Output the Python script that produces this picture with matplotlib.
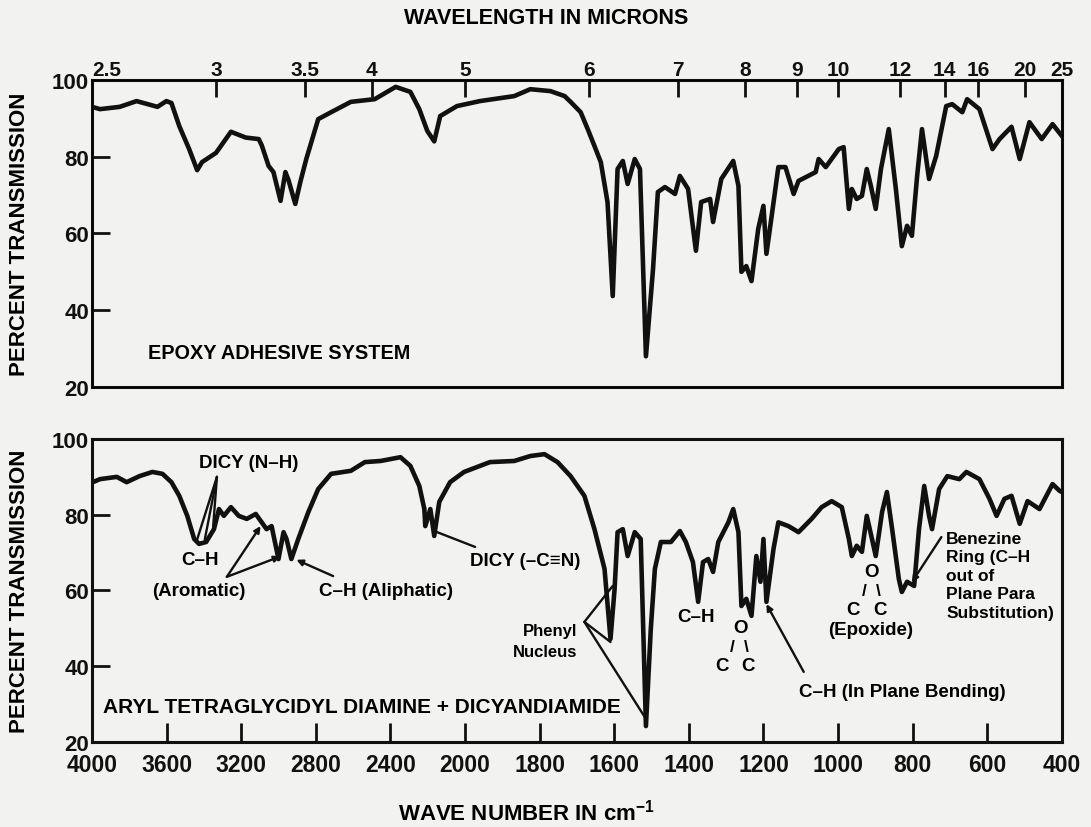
import numpy as np
import matplotlib
matplotlib.use('Agg')
import matplotlib.pyplot as plt

plt.rcParams['font.family'] = ['Liberation Sans', 'DejaVu Sans']
plt.rcParams['font.weight'] = 'bold'
plt.rcParams['mathtext.fontset'] = 'custom'
plt.rcParams['mathtext.rm'] = 'Liberation Sans:bold'
plt.rcParams['mathtext.bf'] = 'Liberation Sans:bold'

# spectrum 1: epoxy adhesive system (wave number, % transmission)
wn_epoxy = [4000, 3957, 3851, 3761, 3649, 3601, 3574, 3532, 3479, 3436, 3410, 3335, 3255,
            3176, 3106, 3090, 3053, 3027, 2989, 2963, 2947, 2910, 2883, 2851, 2787, 2718,
            2612, 2484, 2372, 2293, 2245, 2202, 2165, 2133, 2043, 1960, 1868, 1825, 1771,
            1733, 1717, 1690, 1671, 1653, 1636, 1618, 1604, 1591, 1577, 1564, 1545, 1531,
            1515, 1496, 1483, 1464, 1437, 1424, 1402, 1381, 1367, 1343, 1335, 1313, 1281,
            1267, 1259, 1246, 1232, 1214, 1200, 1192, 1179, 1160, 1141, 1119, 1106, 1060,
            1052, 1033, 998, 985, 971, 963, 950, 936, 923, 912, 899, 885, 864, 845, 829,
            815, 802, 788, 775, 756, 737, 710, 694, 667, 654, 621, 586, 567, 535, 513, 487,
            454, 425, 400]
t_epoxy = [93, 92.4, 93, 94.5, 93, 94.5, 94, 88, 82, 76.5, 78.6, 81, 86.5,
           85, 84.6, 83, 77.6, 76, 68.5, 76, 74, 67.7, 73.4, 79.4, 89.8, 91.6,
           94.3, 95, 98.2, 96.9, 92.4, 86.7, 84, 90.6, 93.2, 94.5, 95.8, 97.6, 97.1,
           95.8, 94.3, 91.6, 87.2, 82.8, 78.6, 68.2, 43.7, 76.8, 78.9, 72.9, 79.4, 76.8,
           28, 50.7, 70.8, 72.1, 70.3, 75, 71.6, 55.5, 68.2, 69, 63, 74.2, 78.9,
           72.4, 50, 51.5, 47.6, 61.2, 67.2, 54.7, 63.8, 77.3, 77.3, 70.3, 73.7, 76,
           79.4, 77.3, 82, 82.5, 66.4, 71.6, 69, 69.8, 76.8, 72.4, 66.4, 76.8, 87.2, 71.6, 56.7,
           62, 59.4, 75, 87.2, 74.2, 80.2, 93.2, 93.7, 91.6, 95, 92.4, 82, 84.6, 87.8, 79.4, 89,
           84.6, 88.5, 85.4]

# spectrum 2: aryl tetraglycidyl diamine + dicyandiamide
wn_aryl = [4000, 3957, 3867, 3814, 3745, 3676, 3622, 3574, 3532, 3489, 3452, 3426, 3388,
           3346, 3319, 3293, 3255, 3213, 3170, 3122, 3090, 3064, 3037, 3000, 2973, 2957,
           2931, 2894, 2840, 2787, 2718, 2612, 2537, 2452, 2346, 2293, 2245, 2218, 2213,
           2186, 2165, 2138, 2080, 2005, 1933, 1868, 1825, 1787, 1752, 1717, 1680, 1653,
           1626, 1610, 1599, 1591, 1577, 1564, 1545, 1529, 1515, 1502, 1491, 1475, 1448,
           1424, 1408, 1389, 1375, 1362, 1348, 1335, 1321, 1294, 1281, 1267, 1259, 1246,
           1232, 1219, 1208, 1200, 1192, 1173, 1160, 1133, 1106, 1071, 1044, 1017, 990,
           971, 963, 950, 936, 923, 909, 899, 882, 869, 855, 837, 829, 815, 796, 783, 769,
           756, 748, 729, 707, 675, 656, 621, 594, 575, 554, 535, 513, 492, 460, 425, 406, 400]
t_aryl = [88.5, 89.4, 90, 88.6, 90.2, 91.3, 90.8, 88.6, 85, 79.7, 73.6, 72.3, 72.8,
          76.2, 81.5, 79.7, 82, 79.7, 78.9, 80.2, 78, 76.2, 77, 68.3, 75.4, 73.6,
          68.3, 73.6, 80.7, 86.8, 90.8, 91.6, 93.9, 94.2, 95.2, 92.9, 87.6, 81.5, 77,
          81.5, 74.4, 83.4, 88.6, 91.3, 93.9, 94.2, 95.5, 96, 93.9, 90.2, 85, 76.2,
          65.7, 47.2, 60.4, 75.4, 76.2, 69.1, 75.4, 73.6, 24.2, 49.8, 65.7, 72.8, 72.8,
          75.7, 72.8, 67.5, 57, 67.5, 68.3, 64.9, 72.8, 78, 81.5, 75.4, 55.9, 57.8,
          53.3, 69.1, 62.3, 73.6, 57, 71, 78, 77, 75.4, 78.9, 82, 83.6, 82,
          73.6, 69.1, 71.8, 70.2, 79.7, 73.6, 69.1, 80.7, 86, 76.2, 63, 59.6, 62.3, 61.2, 76.2, 87.6,
          79.7, 76.2, 86.8, 90.2, 89.4, 91.3, 89.4, 84.2, 79.7, 84.2, 85, 77.6, 83.6, 81.5, 88.1, 86.3, 86]

wn_ticks = [4000, 3600, 3200, 2800, 2400, 2000, 1800, 1600, 1400, 1200, 1000, 800, 600, 400]
micron_ticks = [2.5, 3, 3.5, 4, 5, 6, 7, 8, 9, 10, 12, 14, 16, 20, 25]
micron_labels = ['2.5', '3', '3.5', '4', '5', '6', '7', '8', '9', '10', '12', '14', '16', '20', '25']
t_ticks = [20, 40, 60, 80, 100]


# IR chart paper: scale doubles below 2000 cm-1 (increasing in w, axis is inverted)
def fwd(w):
    w = np.asarray(w, dtype=float)
    return np.where(w >= 2000, w - 4000, 2 * w - 6000)


def inv(p):
    p = np.asarray(p, dtype=float)
    return np.where(p >= -2000, p + 4000, (p + 6000) / 2)


BG = '#f2f2f0'
INK = '#111111'

fig = plt.figure(figsize=(10.91, 8.28), dpi=100, facecolor=BG)
ax1 = fig.add_axes([0.0843, 0.5314, 0.889, 0.3708])
ax2 = fig.add_axes([0.0843, 0.1027, 0.889, 0.3659])


def style_axis(ax):
    ax.set_facecolor(BG)
    ax.set_xscale('function', functions=(fwd, inv))
    ax.set_xlim(4000, 400)
    ax.set_ylim(20, 100)
    ax.set_yticks(t_ticks)
    for s in ax.spines.values():
        s.set_linewidth(2.2)
        s.set_color(INK)
    ax.tick_params(axis='y', direction='in', length=13, width=2, labelsize=16, pad=2, colors=INK)
    ax.set_ylabel('PERCENT TRANSMISSION', fontsize=16, fontweight='bold')
    ax.yaxis.set_label_coords(-0.064, 0.5)


style_axis(ax1)
style_axis(ax2)

ax1.plot(wn_epoxy, t_epoxy, color=INK, lw=3.3, solid_joinstyle='round')
ax2.plot(wn_aryl, t_aryl, color=INK, lw=3.3, solid_joinstyle='round')

top = ax1.twiny()
top.set_xscale('function', functions=(fwd, inv))
top.set_xlim(4000, 400)
top.set_xticks([10000 / m for m in micron_ticks])
top.set_xticklabels(micron_labels)
top.tick_params(axis='x', direction='in', length=12, width=2, labelsize=15, pad=1, colors=INK)
top.xaxis.set_minor_locator(plt.NullLocator())
top.get_xticklabels()[0].set_horizontalalignment('left')
ax1.tick_params(axis='x', which='both', bottom=False, top=False, labelbottom=False, labeltop=False)

ax2.set_xticks(wn_ticks)
ax2.set_xticklabels([str(t) for t in wn_ticks])
ax2.xaxis.set_minor_locator(plt.NullLocator())
ax2.tick_params(axis='x', direction='in', length=14, width=2, labelsize=16.5, pad=8, colors=INK)

fig.text(0.501, 0.978, 'WAVELENGTH IN MICRONS', ha='center', va='center', fontsize=15.5, fontweight='bold')
fig.text(0.483, 0.019, r'WAVE NUMBER IN cm$^{-1}$', ha='center', va='center', fontsize=16, fontweight='bold')

ax1.text(0.058, 0.114, 'EPOXY ADHESIVE SYSTEM', transform=ax1.transAxes, fontsize=14.3, fontweight='bold', va='center')
ax2.text(0.011, 0.116, 'ARYL TETRAGLYCIDYL DIAMINE + DICYANDIAMIDE', transform=ax2.transAxes,
         fontsize=15, fontweight='bold', va='center')

fs = 13.5
line = dict(arrowstyle='-', lw=1.7, color=INK, shrinkA=0, shrinkB=0)
arrow = dict(arrowstyle='-|>', lw=1.7, color=INK, shrinkA=0, shrinkB=0, mutation_scale=9)

# DICY (N-H)
ax2.text(3160, 93.9, 'DICY (N\u2013H)', ha='center', va='center', fontsize=fs)
for tw, tt in [(3436, 73.5), (3395, 73.5), (3350, 77)]:
    ax2.annotate('', xy=(tw, tt), xytext=(3330, 90), arrowprops=line)
ax2.text(3420, 68.3, 'C\u2013H', ha='center', va='center', fontsize=fs)
ax2.text(3426, 59.9, '(Aromatic)', ha='center', va='center', fontsize=fs)
ax2.annotate('', xy=(3096, 77), xytext=(3277, 63.6), arrowprops=arrow)
ax2.annotate('', xy=(2990, 69), xytext=(3277, 63.6), arrowprops=arrow)
ax2.text(2426, 59.9, 'C\u2013H (Aliphatic)', ha='center', va='center', fontsize=fs)
ax2.annotate('', xy=(2904, 68.1), xytext=(2707, 63.8), arrowprops=arrow)
ax2.text(1838, 67.8, 'DICY (\u2013C\u2261N)', ha='center', va='center', fontsize=fs)
ax2.annotate('', xy=(2165, 75.7), xytext=(1973, 71.5), arrowprops=line)

# phenyl nucleus
ax2.text(1698, 46.7, 'Phenyl\nNucleus', ha='right', va='center', fontsize=12, linespacing=1.45)
for tw, tt in [(1604, 61.2), (1610, 46.4), (1515, 26.1)]:
    ax2.annotate('', xy=(tw, tt), xytext=(1680, 51.7), arrowprops=line)

ax2.text(1381, 53, 'C\u2013H', ha='center', va='center', fontsize=fs)

# C-O-C groups: O on top, slashes, two C below
for w0, t0, dc in [(1262, 50.1, 36), (909, 64.9, 36)]:
    ax2.text(w0, t0, 'O', ha='center', va='center', fontsize=fs)
    ax2.text(w0 + dc * 0.6, t0 - 5, '/', ha='center', va='center', fontsize=fs - 1)
    ax2.text(w0 - dc * 0.45, t0 - 5, '\\', ha='center', va='center', fontsize=fs - 1)
    ax2.text(w0 + dc * 1.4, t0 - 10, 'C', ha='center', va='center', fontsize=fs)
    ax2.text(w0 - dc * 0.6, t0 - 10, 'C', ha='center', va='center', fontsize=fs)
ax2.text(912, 49.8, '(Epoxide)', ha='center', va='center', fontsize=fs)

ax2.text(1106, 33.2, 'C\u2013H (In Plane Bending)', ha='left', va='center', fontsize=fs)
ax2.annotate('', xy=(1192, 56.4), xytext=(1092, 38.5), arrowprops=arrow)

ax2.text(710, 75.8, 'Benezine\nRing (C\u2013H\nout of\nPlane Para\nSubstitution)', ha='left', va='top',
         fontsize=12.5, linespacing=1.3)
ax2.annotate('', xy=(802, 62.2), xytext=(723, 74.1), arrowprops=arrow)

fig.savefig('out.png', dpi=100, facecolor=BG)
